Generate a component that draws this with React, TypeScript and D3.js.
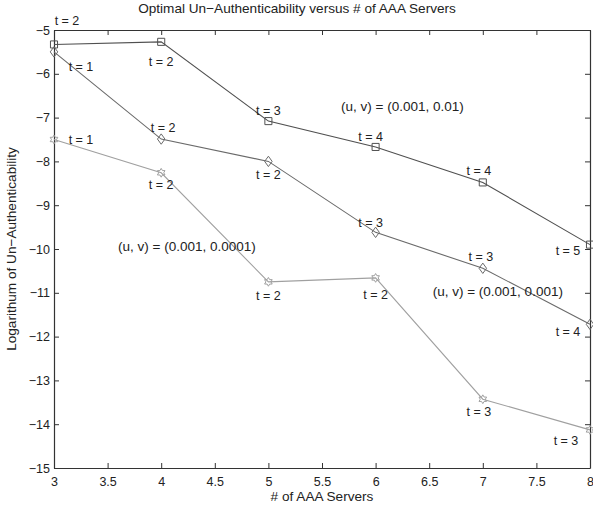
import React, { useRef, useEffect } from "react";
import * as d3 from "d3";

const servers = [3, 4, 5, 6, 7, 8];
const seriesHigh = [-5.33, -5.27, -7.08, -7.67, -8.48, -9.9];
const seriesMid = [-5.5, -7.49, -8.0, -9.62, -10.44, -11.72];
const seriesLow = [-7.5, -8.26, -10.75, -10.66, -13.43, -14.13];
const labelsHigh = ["t = 2", "t = 2", "t = 3", "t = 4", "t = 4", "t = 5"];
const labelsMid = ["t = 1", "t = 2", "t = 2", "t = 3", "t = 3", "t = 4"];
const labelsLow = ["t = 1", "t = 2", "t = 2", "t = 2", "t = 3", "t = 3"];
const xTicks = [3, 3.5, 4, 4.5, 5, 5.5, 6, 6.5, 7, 7.5, 8];
const yTicks = [-5, -6, -7, -8, -9, -10, -11, -12, -13, -14, -15];

// label offsets (px) relative to each point, as in the figure
const offHigh = [[13, -19], [0, 24], [0, -6], [-5, -6], [-4, -7], [-22, 10]];
const offMid = [[27, 19], [2, -7], [0, 18], [-5, -5], [-2, -7], [-22, 12]];
const offLow = [[27, 4], [0, 16], [0, 18], [0, 21], [-4, 17], [-24, 15]];

const hexagram = {
  draw(ctx: any, size: number) {
    const r = Math.sqrt(size) * 0.62;
    const ri = r * 0.58;
    for (let i = 0; i < 12; i++) {
      const a = -Math.PI / 2 + (i * Math.PI) / 6;
      const rr = i % 2 === 0 ? r : ri;
      if (i === 0) ctx.moveTo(rr * Math.cos(a), rr * Math.sin(a));
      else ctx.lineTo(rr * Math.cos(a), rr * Math.sin(a));
    }
    ctx.closePath();
  },
};

const diamond = {
  draw(ctx: any, size: number) {
    const h = Math.sqrt(size) * 0.62;
    const w = h * 0.72;
    ctx.moveTo(0, -h);
    ctx.lineTo(w, 0);
    ctx.lineTo(0, h);
    ctx.lineTo(-w, 0);
    ctx.closePath();
  },
};

export default function App() {
  const ref = useRef<SVGSVGElement>(null);

  useEffect(() => {
    if (!ref.current) return;
    const svg = d3.select(ref.current);
    svg.selectAll("*").remove();

    const margin = { left: 54, top: 30, right: 3, bottom: 40 };
    const width = 593;
    const height = 508;
    const font = "Liberation Sans, Arial, Helvetica, sans-serif";

    const x = d3.scaleLinear().domain([3, 8]).range([margin.left, width - margin.right]);
    const y = d3.scaleLinear().domain([-5, -15]).range([margin.top, height - margin.bottom]);

    svg.attr("width", width).attr("height", height);
    svg.append("rect").attr("width", width).attr("height", height).attr("fill", "#fff");

    const axisColor = "#333";
    const tick = 5;

    const bottom = svg.append("g").attr("transform", `translate(0,${y(-15)})`)
      .call(d3.axisBottom(x).tickValues(xTicks).tickSizeInner(-tick).tickSizeOuter(0).tickPadding(9).tickFormat(d3.format("")));
    const top = svg.append("g").attr("transform", `translate(0,${y(-5)})`)
      .call(d3.axisTop(x).tickValues(xTicks).tickSizeInner(-tick).tickSizeOuter(0).tickFormat(() => ""));
    const left = svg.append("g").attr("transform", `translate(${x(3)},0)`)
      .call(d3.axisLeft(y).tickValues(yTicks).tickSizeInner(-tick).tickSizeOuter(0).tickPadding(4)
        .tickFormat((d: any) => String(d).replace("-", "\u2212")));
    const right = svg.append("g").attr("transform", `translate(${x(8)},0)`)
      .call(d3.axisRight(y).tickValues(yTicks).tickSizeInner(-tick).tickSizeOuter(0).tickFormat(() => ""));

    [bottom, top, left, right].forEach((g) => {
      g.selectAll("path").attr("stroke", axisColor).attr("stroke-width", 1.2);
      g.selectAll("line").attr("stroke", axisColor);
      g.selectAll("text").attr("fill", "#222").attr("font-family", font).attr("font-size", 12.5);
    });

    const series = [
      { vals: seriesHigh, labels: labelsHigh, off: offHigh, color: "#505050", sym: d3.symbolSquare, size: 50 },
      { vals: seriesMid, labels: labelsMid, off: offMid, color: "#6a6a6a", sym: diamond, size: 70 },
      { vals: seriesLow, labels: labelsLow, off: offLow, color: "#a0a0a0", sym: hexagram, size: 50 },
    ];

    const line = d3.line<number>().x((_, i) => x(servers[i])).y((d) => y(d));

    series.forEach((s) => {
      svg.append("path").datum(s.vals).attr("d", line).attr("fill", "none")
        .attr("stroke", s.color).attr("stroke-width", 1.1);
      svg.append("g").selectAll("path").data(s.vals).join("path")
        .attr("transform", (d, i) => `translate(${x(servers[i])},${y(d)})`)
        .attr("d", d3.symbol().type(s.sym as any).size(s.size)())
        .attr("fill", "none").attr("stroke", s.color).attr("stroke-width", 1);
      svg.append("g").selectAll("text").data(s.vals).join("text")
        .attr("x", (d, i) => x(servers[i]) + s.off[i][0])
        .attr("y", (d, i) => y(d) + s.off[i][1])
        .attr("text-anchor", "middle")
        .attr("font-family", font).attr("font-size", 12.5).attr("fill", "#222")
        .text((d, i) => s.labels[i]);
    });

    const notes = [
      { text: "(u, v) = (0.001, 0.01)", px: 6.25, py: -6.85 },
      { text: "(u, v) = (0.001, 0.001)", px: 7.14, py: -11.07 },
      { text: "(u, v) = (0.001, 0.0001)", px: 4.24, py: -10.05 },
    ];
    svg.append("g").selectAll("text").data(notes).join("text")
      .attr("x", (d) => x(d.px)).attr("y", (d) => y(d.py))
      .attr("text-anchor", "middle").attr("font-family", font).attr("font-size", 13.5).attr("fill", "#222")
      .text((d) => d.text);

    svg.append("text").attr("x", 297).attr("y", 13).attr("text-anchor", "middle")
      .attr("font-family", font).attr("font-size", 13.6).attr("fill", "#222")
      .text("Optimal Un\u2212Authenticability versus # of AAA Servers");
    svg.append("text").attr("x", 322).attr("y", 501).attr("text-anchor", "middle")
      .attr("font-family", font).attr("font-size", 13.6).attr("fill", "#222")
      .text("# of AAA Servers");
    svg.append("text").attr("transform", `translate(16,${(y(-5) + y(-15)) / 2}) rotate(-90)`)
      .attr("text-anchor", "middle")
      .attr("font-family", font).attr("font-size", 13.6).attr("fill", "#222")
      .text("Logarithum of Un\u2212Authenticability");
  }, []);

  return (
    <div style={{ position: "absolute", left: 0, top: 0 }}>
      <svg ref={ref} style={{ display: "block" }}></svg>
    </div>
  );
}
